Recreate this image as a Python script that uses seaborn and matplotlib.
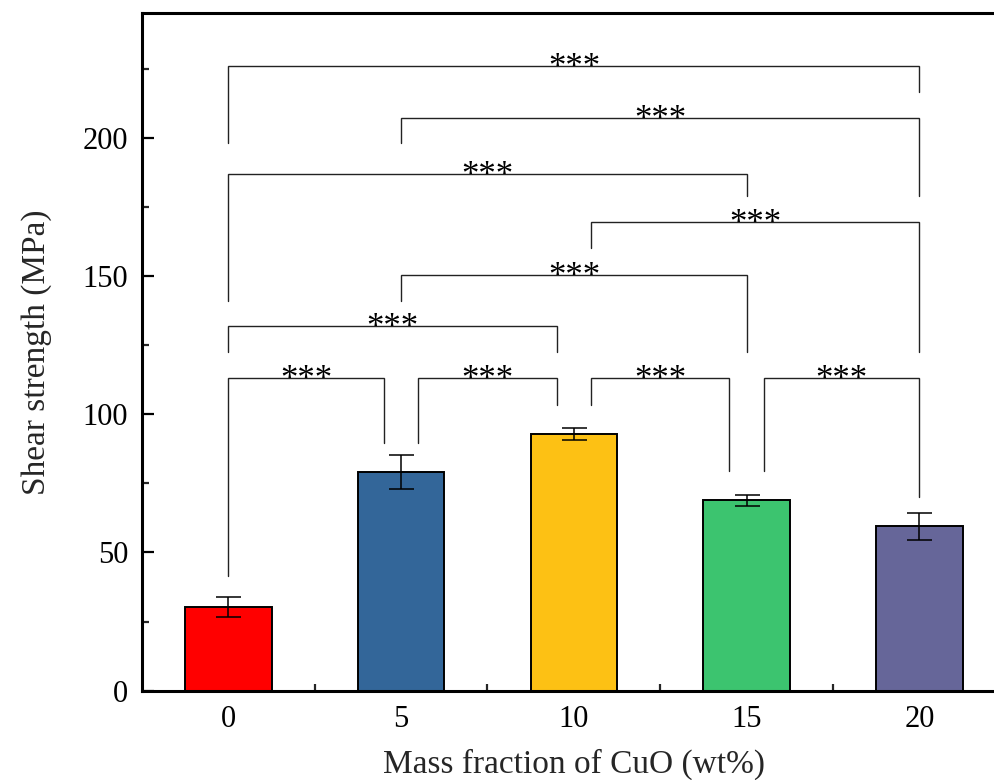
import matplotlib
matplotlib.use("Agg")
import matplotlib.pyplot as plt
import seaborn as sns
from matplotlib.ticker import MultipleLocator, AutoMinorLocator, FixedLocator

# Shear strength versus CuO loading
cuo_wt = ["0", "5", "10", "15", "20"]
shear_mpa = [30.2, 79.0, 92.8, 68.8, 59.4]
shear_sd = [3.7, 6.1, 2.2, 2.0, 5.0]
bar_colors = ["#FF0000", "#336699", "#FDC114", "#3CC46F", "#666699"]

# Pairwise comparisons (group indices), all p < 0.001
pairs = [(0, 4), (1, 4), (0, 3), (2, 4), (1, 3), (0, 2), (0, 1), (1, 2), (2, 3), (3, 4)]
bracket_top = [226, 207, 187, 169.5, 150.5, 132, 113, 113, 113, 113]
leg_left_end = [198, 198, 141, 160, 141, 122.5, 41.5, 89.5, 103.5, 79.5]
leg_right_end = [216.4, 179, 179, 122.5, 122.5, 122.5, 89.5, 103.5, 79.5, 70]
leg_shift = [(0, 0), (0, 0), (0, 0), (1, 0), (0, 0), (0, -1), (0, -1), (1, -1), (1, -1), (1, 0)]
sig_label = "***"

sns.set_theme(style="ticks")
plt.rcParams["font.family"] = ["Liberation Serif", "DejaVu Serif"]

fig = plt.figure(figsize=(9.95, 7.8), dpi=100)
ax = fig.add_axes([0.1427, 0.1145, 1.0108 - 0.1427, 0.983 - 0.1145])

sns.barplot(x=cuo_wt, y=shear_mpa, hue=cuo_wt, palette=bar_colors, width=0.5,
            edgecolor="black", linewidth=1.4, errorbar=None, legend=False,
            saturation=1, ax=ax)
ax.errorbar(range(len(cuo_wt)), shear_mpa, yerr=shear_sd, fmt="none",
            ecolor="black", elinewidth=1.1, capsize=9, capthick=1.1, zorder=5)

# significance brackets
dx = 0.1
for (a, b), top, yl, yr, (sa, sb) in zip(pairs, bracket_top, leg_left_end,
                                         leg_right_end, leg_shift):
    xa = a + sa * dx
    xb = b + sb * dx
    ax.plot([xa, xa, xb, xb], [yl, top, top, yr], color="#222222", lw=1.0,
            solid_joinstyle="miter", zorder=4)
    ax.annotate(sig_label, xy=((xa + xb) / 2, top), xytext=(0, -8),
                textcoords="offset points", ha="center", va="baseline",
                fontsize=25, color="black", zorder=6)

ax.set_xlim(-0.5, 4.5)
ax.set_ylim(0, 245)
ax.yaxis.set_major_locator(MultipleLocator(50))
ax.yaxis.set_minor_locator(AutoMinorLocator(2))
ax.xaxis.set_minor_locator(FixedLocator([0.5, 1.5, 2.5, 3.5]))

for s in ax.spines.values():
    s.set_visible(True)
    s.set_linewidth(2.2)
    s.set_color("black")

ax.tick_params(which="major", direction="in", length=8.5, width=1.6,
               labelsize=22, pad=10, colors="black")
ax.tick_params(which="minor", direction="in", length=5, width=1.6)
ax.tick_params(axis="x", which="major", pad=10)

ax.set_xlabel("Mass fraction of CuO (wt%)", fontsize=24, labelpad=11)
ax.set_ylabel("Shear strength (MPa)", fontsize=24, labelpad=22)

fig.savefig("out.png", dpi=100)
